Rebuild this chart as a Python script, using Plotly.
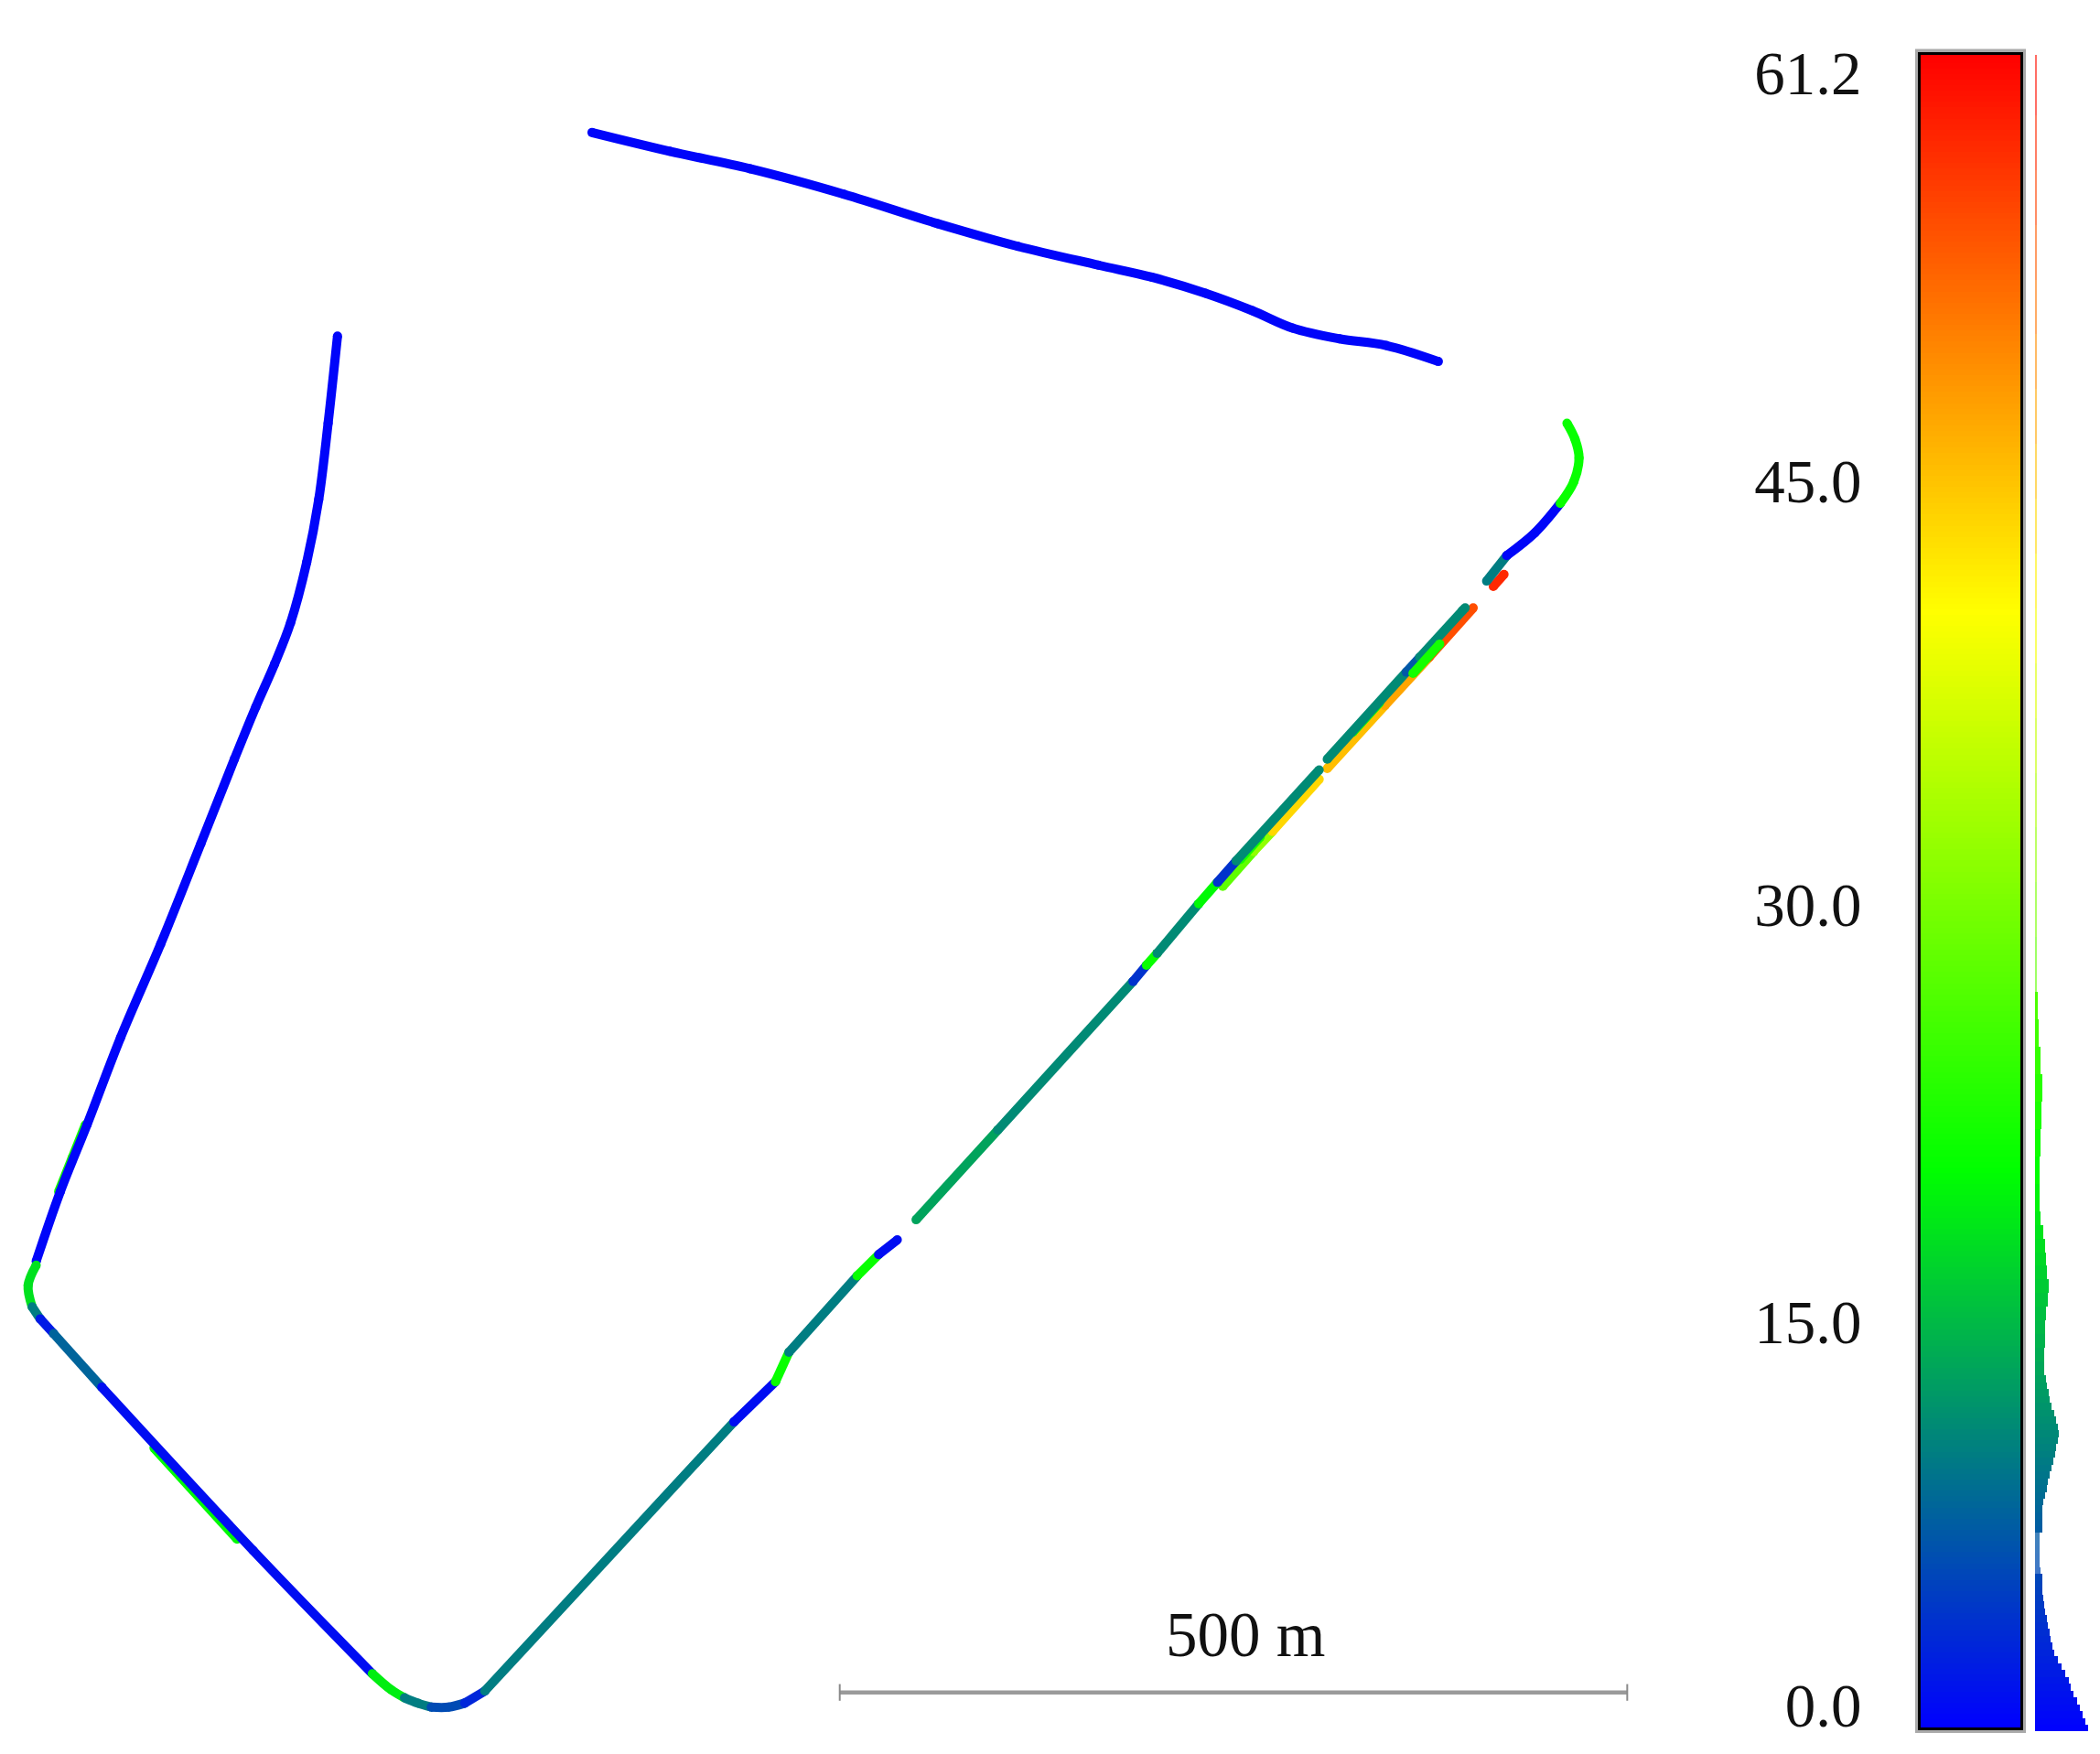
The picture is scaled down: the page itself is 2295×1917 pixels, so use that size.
import plotly.graph_objects as go
from plotly.colors import sample_colorscale

W, H = 2295, 1917
VMAX = 61.2
SCALE = [[0, "rgb(0,0,255)"], [1 / 3, "rgb(0,255,0)"], [2 / 3, "rgb(255,255,0)"], [1, "rgb(255,0,0)"]]

# Track, in units of the 1568x1310 picture; each run has one scalar value
run_values = [0.4, 22, 0.4, 18, 10, 2, 8, 20, 1, 19, 10, 6, 3, 10, 1, 21, 10, 21, 1,
              28, 32, 44, 46, 48, 55, 13, 11, 4, 21, 11, 20, 4, 22, 11, 22, 11, 7, 11, 22, 11, 58, 10, 0.5, 21]
run_x = [
    [442, 500, 560, 630, 700, 760, 820, 860, 900, 935, 965, 1000, 1035, 1074],
    [63.8, 53.8, 43.8],
    [252, 245, 238, 229, 217, 205, 191, 175, 150, 120, 90, 65, 45, 27],
    [27, 21, 24],
    [24, 30],
    [30, 40],
    [40, 76],
    [115, 177],
    [76, 189, 278],
    [278, 292, 302],
    [302, 312, 322],
    [322, 335, 347],
    [347, 362],
    [362, 548],
    [548, 579],
    [579, 589],
    [589, 640],
    [640, 656],
    [656, 670],
    [913, 936],
    [936, 950],
    [950, 985],
    [991, 1034],
    [1034, 1067],
    [1067, 1100],
    [684, 745],
    [745, 846],
    [846, 856],
    [856, 864],
    [864, 895],
    [895, 909],
    [909, 923],
    [926, 941],
    [923, 985],
    [1010, 1030],
    [991, 1050],
    [1050, 1060],
    [1060, 1092],
    [1055, 1075],
    [1092, 1094],
    [1123, 1115],
    [1125, 1110],
    [1165, 1146, 1125],
    [1170, 1176, 1179, 1175, 1165],
]
run_y = [
    [99, 113, 126, 145, 167, 184, 198, 207, 219, 232, 245, 253, 258, 270],
    [840, 865, 890],
    [251, 316, 373, 420, 465, 496, 528, 567, 630, 705, 775, 840, 890, 942],
    [945, 960, 976],
    [976, 985],
    [985, 996],
    [996, 1036],
    [1081.5, 1149.5],
    [1036, 1158, 1250],
    [1250, 1262, 1268],
    [1268, 1272, 1275],
    [1275, 1275, 1272],
    [1272, 1263],
    [1263, 1062],
    [1062, 1032],
    [1032, 1010],
    [1010, 953],
    [953, 937],
    [937, 926],
    [662, 636],
    [636, 621],
    [621, 582],
    [574, 527],
    [527, 491],
    [491, 454],
    [911, 844],
    [844, 733],
    [733, 721],
    [721, 712],
    [712, 675],
    [675, 659],
    [659, 643],
    [642, 625],
    [643, 575],
    [547, 525],
    [567, 502],
    [502, 491],
    [491, 456],
    [503, 481],
    [456, 454],
    [429, 438],
    [415, 434],
    [376, 398, 415],
    [316, 328, 342, 360, 376],
]

# Colour-value histogram beside the bar
hist_low = [0, .25, .5, .75, 1, 1.25, 1.5, 1.75, 2, 2.25, 2.5, 2.75, 3, 3.25, 3.5, 3.75, 4, 4.25, 4.5, 4.75,
            5, 5.25, 5.5, 5.75, 6, 6.25, 6.5, 6.75, 7, 7.25, 7.5, 7.75, 8, 8.25, 8.5, 8.75, 9, 9.25, 9.5, 9.75,
            10, 10.25, 10.5, 10.75, 11, 11.25, 11.5, 11.75, 12, 12.25, 12.5, 12.75,
            13, 13.5, 14, 14.5, 15, 15.5, 16, 16.5, 17, 17.5, 18, 18.5, 19, 20, 21, 22, 23, 24, 25, 26,
            27, 29, 31, 33, 35, 37, 39, 41, 43, 45, 47, 49, 51, 53, 55, 57, 59]
hist_high = hist_low[1:] + [VMAX]
hist_count = [58, 55, 52, 49, 46, 42, 39, 37, 33, 29, 25, 21, 19, 17, 16, 14, 13, 11, 10, 9,
              8, 8, 8, 6, 5, 5, 5, 5, 5, 8, 8, 8, 8, 9, 11, 13, 14, 16, 18, 20,
              22, 23, 25, 26, 25, 23, 21, 18, 16, 15, 13, 12,
              10, 10, 11, 11, 12, 14, 15, 13, 12, 11, 9, 6, 5, 5, 6, 7, 8, 6, 4, 3,
              2, 2, 2, 2, 2, 2, 2, 2, 2, 2, 2, 2, 2, 2, 2, 2, 2]
hist_alpha = [1.0] * 23 + [0.75] * 6 + [1.0] * 43 + [0.6] * 17

bar_values = [VMAX * i / 300 for i in range(301)]
tick_pos = [0.83, 14.85, 30.1, 45.6, 60.52]
tick_text = ["0.0", "15.0", "30.0", "45.0", "61.2"]
scale_x = [627, 1215]
scale_y = [1264, 1264]

SERIF = "Liberation Serif, serif"


def colour(v):
    return sample_colorscale(SCALE, [v / VMAX])[0]


fig = go.Figure()
for v, xs, ys in zip(run_values, run_x, run_y):
    fig.add_trace(go.Scatter(x=xs, y=ys, mode="lines+markers", hoverinfo="skip",
                             line=dict(color=colour(v), width=10, shape="spline", smoothing=1),
                             marker=dict(color=colour(v), size=10, line=dict(width=0))))

fig.add_trace(go.Scatter(x=scale_x, y=scale_y, mode="lines+markers", hoverinfo="skip",
                         line=dict(color="#9a9a9a", width=4.5),
                         marker=dict(symbol="line-ns", size=13, line=dict(color="#8a8a8a", width=2))))

fig.add_trace(go.Heatmap(x=[0], y=bar_values, z=[[v] for v in bar_values], xaxis="x2", yaxis="y2",
                         colorscale=SCALE, zmin=0, zmax=VMAX, showscale=False, hoverinfo="skip"))

fig.add_trace(go.Bar(y=[(a + b) / 2 for a, b in zip(hist_low, hist_high)],
                     x=hist_count,
                     width=[b - a for a, b in zip(hist_low, hist_high)],
                     orientation="h", xaxis="x3", yaxis="y3", hoverinfo="skip",
                     marker=dict(color=[colour((a + b) / 2) for a, b in zip(hist_low, hist_high)],
                                 opacity=hist_alpha, line=dict(width=0))))

hidden = dict(visible=False, fixedrange=True)
bar_dom_y = [(H - 1888) / H, (H - 59.5) / H]
hist_dom_y = [(H - 1892) / H, (H - 59.5) / H]
fig.update_layout(
    width=W, height=H, margin=dict(l=0, r=0, t=0, b=0, autoexpand=False),
    paper_bgcolor="white", plot_bgcolor="rgba(0,0,0,0)", showlegend=False, bargap=0,
    xaxis=dict(domain=[0, 1], range=[0, 1568], **hidden),
    yaxis=dict(domain=[0, 1], range=[1310, 0], **hidden),
    xaxis2=dict(domain=[2099 / W, 2208 / W], anchor="y2", range=[-0.5, 0.5], showgrid=False, zeroline=False,
                showticklabels=False, ticks="", showline=True, mirror=True, linecolor="black", linewidth=3,
                fixedrange=True),
    yaxis2=dict(domain=bar_dom_y, anchor="x2", range=[0, VMAX], showgrid=False, zeroline=False,
                tickmode="array", tickvals=tick_pos, ticktext=tick_text, ticks="", ticklabelstandoff=48,
                tickfont=dict(family=SERIF, size=67, color="#111111"),
                showline=True, mirror=True, linecolor="black", linewidth=3, fixedrange=True),
    xaxis3=dict(domain=[2224 / W, 2282 / W], anchor="y3", range=[0, 58], **hidden),
    yaxis3=dict(domain=hist_dom_y, anchor="x3", range=[0, VMAX], **hidden),
    annotations=[dict(x=930, y=1221, xref="x", yref="y", text="500 m", showarrow=False,
                      font=dict(family=SERIF, size=69, color="#111111"))],
    shapes=[dict(type="rect", xref="x2 domain", yref="y2 domain", x0=0, x1=1, y0=0, y1=1, layer="below",
                 line=dict(color="#aaaaaa", width=12), fillcolor="#aaaaaa")],
)
fig.write_html("out.html", config={"displayModeBar": False},
               post_script="document.body.style.margin='0';")
